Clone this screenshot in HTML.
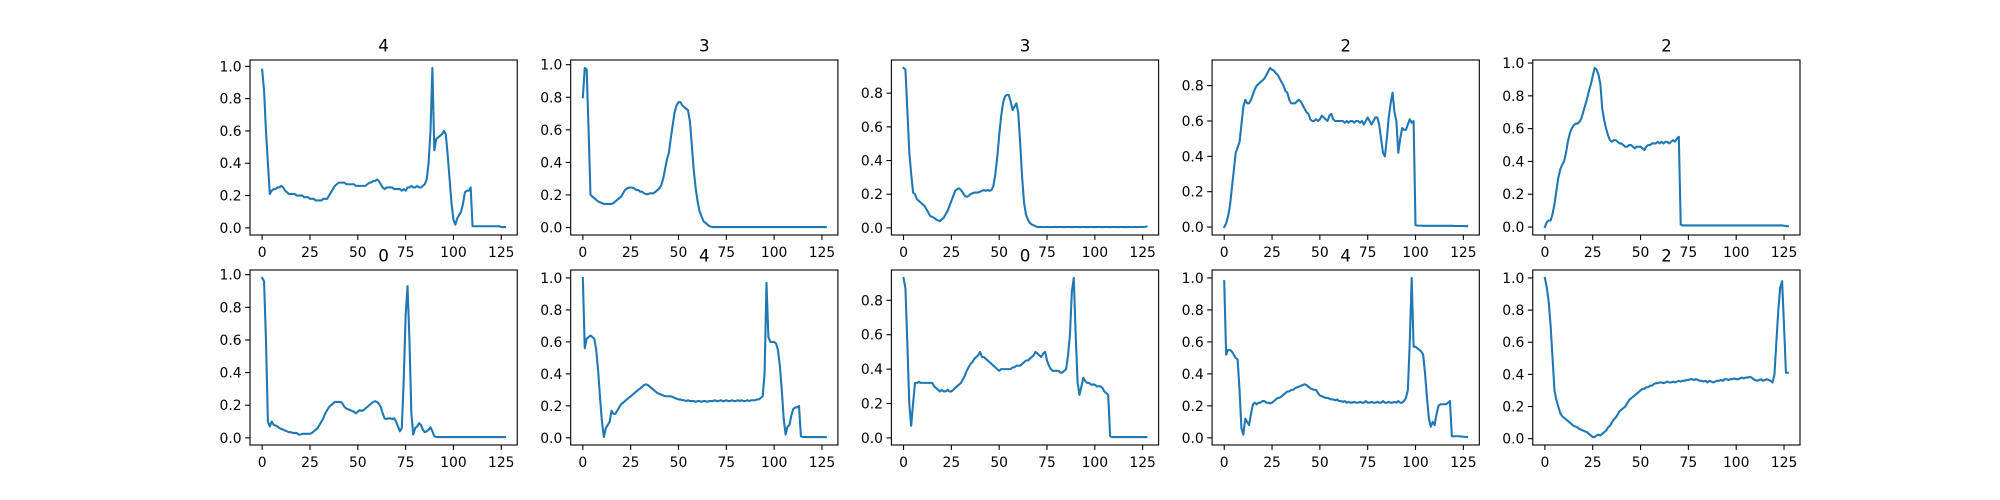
<!DOCTYPE html>
<html><head><meta charset="utf-8">
<style>
html,body{margin:0;padding:0;background:#fff;}
svg{display:block;}
text{font-family:"DejaVu Sans","Liberation Sans",sans-serif;fill:#000;}
</style></head>
<body>
<svg id="fig" width="2000" height="500" viewBox="0 0 2000 500" xmlns="http://www.w3.org/2000/svg">
<rect x="0" y="0" width="2000" height="500" fill="#fff"/>
</svg>
<script>
const titles = ["4","3","3","2","2","0","4","0","4","2"];
const xTicks = [0,25,50,75,100,125];
const s1 = [.98,.85,.6,.4,.21,.23,.24,.24,.25,.25,
.26,.25,.23,.22,.21,.21,.21,.21,.2,.2,
.2,.2,.19,.19,.19,.18,.18,.18,.17,.17,
.17,.17,.18,.18,.18,.2,.22,.24,.26,.27,
.28,.28,.28,.28,.27,.27,.27,.27,.27,.26,
.26,.26,.26,.26,.26,.27,.28,.28,.29,.29,
.3,.29,.27,.25,.24,.25,.25,.25,.25,.24,
.24,.24,.24,.23,.24,.23,.25,.25,.26,.25,
.25,.26,.25,.25,.26,.27,.3,.4,.6,.99,
.48,.55,.56,.57,.58,.6,.58,.45,.3,.15,
.05,.02,.06,.08,.1,.15,.22,.23,.23,.25,
.01,.01,.01,.01,.01,.01,.01,.01,.01,.01,
.01,.01,.01,.01,.01,.005,.005,.005];
const s2 = [.8,.98,.97,.6,.2,.19,.18,.17,.16,.155,
.15,.145,.145,.145,.145,.145,.15,.16,.17,.18,
.19,.21,.23,.24,.245,.245,.245,.24,.23,.23,
.22,.22,.21,.205,.205,.21,.21,.21,.22,.23,
.24,.26,.3,.36,.42,.46,.55,.63,.71,.75,
.77,.77,.75,.74,.73,.72,.65,.5,.35,.24,
.16,.1,.07,.04,.03,.02,.01,.005,.003,.003,
.003,.003,.003,.003,.003,.003,.003,.003,.003,.003,
.003,.003,.003,.003,.003,.003,.003,.003,.003,.003,
.003,.003,.003,.003,.003,.003,.003,.003,.003,.003,
.003,.003,.003,.003,.003,.003,.003,.003,.003,.003,
.003,.003,.003,.003,.003,.003,.003,.003,.003,.003,
.003,.003,.003,.003,.003,.003,.003,.003];
const s3 = [.95,.94,.7,.45,.32,.21,.2,.17,.16,.15,
.14,.13,.11,.09,.07,.065,.06,.05,.045,.04,
.05,.06,.08,.1,.13,.16,.19,.22,.23,.235,
.225,.21,.19,.185,.19,.2,.205,.21,.21,.21,
.215,.22,.225,.22,.225,.22,.225,.25,.32,.42,
.55,.66,.74,.78,.79,.79,.75,.7,.72,.74,
.68,.5,.3,.15,.08,.05,.03,.02,.015,.01,
.005,.005,.006,.005,.005,.006,.005,.005,.005,.006,
.005,.005,.006,.005,.005,.005,.006,.005,.005,.005,
.006,.005,.005,.005,.006,.005,.005,.005,.006,.005,
.005,.005,.006,.005,.005,.005,.006,.005,.005,.005,
.006,.005,.005,.005,.006,.005,.005,.005,.006,.005,
.005,.006,.005,.005,.006,.005,.006,.008];
const s4 = [0,.02,.06,.12,.22,.32,.42,.45,.48,.58,
.68,.72,.7,.7,.72,.75,.78,.8,.81,.82,
.83,.84,.86,.88,.9,.89,.885,.87,.86,.84,
.82,.8,.77,.76,.72,.7,.7,.7,.71,.72,
.71,.69,.67,.65,.64,.61,.6,.6,.61,.6,
.61,.63,.62,.61,.6,.63,.64,.61,.6,.6,
.6,.6,.6,.59,.6,.59,.6,.6,.59,.6,
.6,.59,.6,.58,.6,.62,.6,.58,.6,.62,
.62,.58,.5,.42,.4,.5,.62,.7,.76,.65,
.6,.42,.5,.56,.55,.55,.58,.61,.59,.6,
.01,.008,.008,.008,.007,.007,.007,.007,.007,.007,
.007,.007,.007,.007,.007,.007,.007,.007,.007,.007,
.006,.006,.006,.006,.006,.006,.005,.005];
const s5 = [0,.03,.04,.04,.08,.14,.22,.3,.35,.38,
.4,.45,.52,.57,.6,.62,.63,.63,.64,.66,
.7,.74,.78,.83,.87,.92,.97,.96,.93,.87,
.72,.65,.6,.56,.53,.52,.53,.53,.52,.51,
.51,.5,.49,.49,.5,.5,.49,.48,.49,.49,
.49,.48,.47,.49,.5,.5,.51,.51,.51,.52,
.51,.52,.51,.52,.52,.51,.52,.53,.52,.54,
.55,.015,.01,.01,.01,.01,.01,.01,.01,.01,
.01,.01,.01,.01,.01,.01,.01,.01,.01,.01,
.01,.01,.01,.01,.01,.01,.01,.01,.01,.01,
.01,.01,.01,.01,.01,.01,.01,.01,.01,.01,
.01,.01,.01,.01,.01,.01,.01,.01,.01,.01,
.01,.01,.01,.01,.01,.008,.006,.005];
const s6 = [.98,.96,.6,.1,.07,.1,.08,.075,.07,.06,
.055,.05,.045,.04,.035,.035,.03,.03,.03,.02,
.02,.025,.025,.025,.025,.025,.03,.04,.05,.06,
.08,.1,.12,.15,.17,.19,.2,.21,.22,.22,
.22,.22,.21,.19,.18,.175,.17,.165,.16,.15,
.16,.17,.165,.17,.18,.19,.2,.21,.22,.225,
.22,.21,.19,.15,.12,.115,.12,.12,.115,.12,
.1,.07,.04,.06,.35,.75,.93,.6,.15,.02,
.06,.07,.09,.08,.05,.035,.04,.05,.065,.04,
.01,.005,.005,.005,.005,.005,.005,.005,.005,.005,
.005,.005,.005,.005,.005,.005,.005,.005,.005,.005,
.005,.005,.005,.005,.005,.005,.005,.005,.005,.005,
.005,.005,.005,.005,.005,.005,.005,.005];
const s7 = [1,.56,.62,.63,.64,.63,.62,.55,.42,.25,
.1,.005,.06,.08,.1,.17,.15,.15,.17,.19,
.21,.22,.23,.24,.25,.26,.27,.28,.29,.3,
.31,.32,.33,.335,.33,.32,.31,.3,.29,.28,
.275,.27,.265,.26,.26,.26,.26,.255,.25,.245,
.24,.24,.235,.235,.23,.235,.23,.23,.23,.225,
.23,.23,.225,.23,.23,.225,.23,.23,.23,.235,
.23,.23,.235,.23,.23,.235,.23,.23,.235,.23,
.23,.235,.23,.235,.23,.23,.235,.23,.235,.235,
.235,.24,.24,.25,.26,.4,.97,.63,.6,.6,
.6,.59,.55,.45,.3,.12,.02,.07,.08,.14,
.18,.19,.19,.2,.01,.005,.005,.005,.005,.005,
.005,.005,.005,.005,.005,.005,.005,.005];
const s8 = [.93,.87,.55,.2,.07,.2,.32,.32,.325,.32,
.32,.32,.32,.32,.32,.32,.3,.29,.28,.27,
.28,.27,.27,.28,.27,.27,.28,.29,.3,.31,
.32,.34,.36,.39,.41,.43,.44,.46,.47,.48,
.5,.47,.47,.46,.45,.44,.43,.42,.41,.4,
.39,.4,.4,.4,.4,.4,.4,.41,.41,.42,
.42,.42,.43,.44,.45,.45,.46,.47,.48,.5,
.49,.48,.47,.49,.5,.45,.42,.4,.39,.39,
.39,.39,.38,.38,.39,.4,.48,.6,.85,.93,
.6,.32,.25,.3,.35,.33,.32,.32,.31,.31,
.31,.3,.3,.3,.29,.27,.26,.25,.01,.005,
.005,.005,.005,.005,.005,.005,.005,.005,.005,.005,
.005,.005,.005,.005,.005,.005,.005,.005];
const s9 = [.98,.52,.55,.55,.54,.52,.5,.49,.3,.06,
.02,.12,.1,.08,.15,.21,.22,.21,.22,.22,
.23,.23,.22,.22,.215,.22,.23,.24,.25,.25,
.26,.27,.28,.29,.29,.3,.3,.31,.315,.32,
.325,.33,.335,.33,.32,.31,.305,.3,.3,.28,
.265,.26,.255,.25,.25,.245,.24,.24,.235,.24,
.23,.23,.225,.23,.22,.225,.22,.22,.225,.22,
.22,.225,.22,.22,.23,.22,.22,.225,.22,.22,
.225,.22,.22,.23,.22,.22,.225,.22,.22,.225,
.22,.23,.22,.22,.23,.25,.3,.6,1.0,.57,
.57,.56,.55,.54,.52,.4,.25,.12,.07,.1,
.08,.15,.2,.21,.21,.21,.21,.22,.23,.01,
.01,.01,.01,.01,.008,.007,.006,.005];
const s10 = [1,.94,.85,.7,.5,.3,.24,.2,.16,.14,
.13,.12,.11,.1,.09,.08,.075,.07,.06,.055,
.05,.045,.04,.03,.02,.01,.01,.02,.025,.02,
.03,.04,.05,.07,.08,.1,.12,.13,.15,.17,
.18,.19,.2,.22,.24,.25,.26,.27,.28,.29,
.3,.31,.31,.32,.32,.33,.33,.34,.345,.345,
.35,.35,.345,.35,.355,.35,.35,.355,.35,.355,
.36,.355,.36,.36,.365,.365,.37,.37,.365,.37,
.365,.36,.36,.355,.36,.35,.36,.355,.35,.355,
.36,.36,.365,.36,.37,.37,.365,.37,.37,.375,
.37,.37,.375,.38,.375,.38,.38,.385,.38,.37,
.365,.36,.365,.37,.36,.365,.37,.365,.36,.35,
.4,.6,.8,.94,.98,.7,.41,.41];
const series = [s1,s2,s3,s4,s5,s6,s7,s8,s9,s10];

const NS = "http://www.w3.org/2000/svg";
const svg = document.getElementById('fig');
function mk(tag, attrs, parent){
  const e = document.createElementNS(NS, tag);
  for (const k in attrs) e.setAttribute(k, attrs[k]);
  parent.appendChild(e);
  return e;
}
const AX_W = 267.24, AX_H = 175, COL_STEP = 320.69;
const ROW_TOP = [60, 270];
const TICK = 4.9;

series.forEach((data, i) => {
  const col = i % 5, row = Math.floor(i / 5);
  const L = 250 + col * COL_STEP, T = ROW_TOP[row];
  const g = mk('g', {}, svg);
  
  
  const n = data.length;
  const xmin = -0.05 * (n - 1), xmax = (n - 1) * 1.05;
  let dmin = Math.min(...data), dmax = Math.max(...data);
  const pad = (dmax - dmin) * 0.05;
  const ymin = dmin - pad, ymax = dmax + pad;
  const xs = v => L + (v - xmin) / (xmax - xmin) * AX_W;
  const ys = v => T + AX_H - (v - ymin) / (ymax - ymin) * AX_H;

  const pts = data.map((v, k) => xs(k).toFixed(2) + ',' + ys(v).toFixed(2)).join(' ');
  const line = mk('polyline', {points: pts, fill: 'none', stroke: '#1f77b4', 'stroke-width': 2.08, 'stroke-linejoin': 'round', 'stroke-linecap': 'square'}, g);
  
  

  const frame = mk('rect', {x: L, y: T, width: AX_W, height: AX_H, fill: 'none', stroke: '#000', 'stroke-width': 1.1}, g);
  
  

  xTicks.forEach(t => {
    const x = xs(t);
    const tk = mk('line', {x1: x, x2: x, y1: T + AX_H, y2: T + AX_H + TICK, stroke: '#000', 'stroke-width': 1.1}, g);
    
    
    const lb = mk('text', {x: x, y: T + AX_H + 22, 'text-anchor': 'middle', 'font-size': 13.9}, g);
    lb.textContent = String(t);
    
    
  });
  for (let k = Math.ceil(ymin / 0.2 - 1e-9); k * 0.2 <= ymax + 1e-9; k++) {
    const v = k * 0.2;
    const y = ys(v);
    const tk = mk('line', {x1: L - TICK, x2: L, y1: y, y2: y, stroke: '#000', 'stroke-width': 1.1}, g);
    
    
    const lb = mk('text', {x: L - 8.4, y: y + 5, 'text-anchor': 'end', 'font-size': 13.9}, g);
    lb.textContent = v.toFixed(1);
    
    
  }
  const tt = mk('text', {x: L + AX_W / 2, y: T - 8.3, 'text-anchor': 'middle', 'font-size': 16.7}, g);
  tt.textContent = titles[i];
  
  
});
</script>
</body></html>
